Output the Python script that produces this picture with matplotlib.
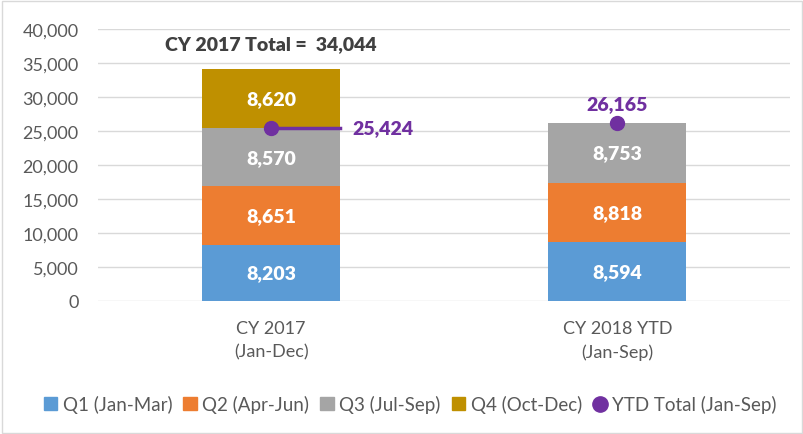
import matplotlib.pyplot as plt
from matplotlib.patches import Rectangle
from matplotlib.lines import Line2D

plt.rcParams['font.family'] = ['Lato', 'DejaVu Sans']

# quarterly counts per year
years = ['CY 2017\n(Jan-Dec)', 'CY 2018 YTD\n(Jan-Sep)']
quarters = ['Q1 (Jan-Mar)', 'Q2 (Apr-Jun)', 'Q3 (Jul-Sep)', 'Q4 (Oct-Dec)']
q_values = [
    [8203, 8594],
    [8651, 8818],
    [8570, 8753],
    [8620, 0],
]
ytd_totals = [25424, 26165]
total_2017 = 34044
colors = ['#5B9BD5', '#ED7D31', '#A5A5A5', '#BF9000']
purple = '#7030A0'

fig = plt.figure(figsize=(8.04, 4.35), dpi=100)
ax = fig.add_axes([0.122, 0.306, 0.861, 0.625])

x = [0, 1]
bottoms = [0, 0]
for qname, vals, c in zip(quarters, q_values, colors):
    ax.bar(x, vals, width=0.4, bottom=bottoms, color=c, zorder=2)
    for xi, v, b in zip(x, vals, bottoms):
        if v > 0:
            ax.text(xi, b + v / 2, f'{v:,}', ha='center', va='center',
                    color='white', fontsize=14, fontweight='heavy', zorder=4)
    bottoms = [b + v for b, v in zip(bottoms, vals)]

# YTD markers
ax.plot([0, 0.2], [ytd_totals[0]] * 2, color=purple, lw=2.5, zorder=3)
ax.plot(x, ytd_totals, 'o', color=purple, ms=10, ls='none', zorder=5)
ax.text(0.235, ytd_totals[0], f'{ytd_totals[0]:,}', ha='left', va='center',
        color=purple, fontsize=14, fontweight='heavy')
ax.text(1, ytd_totals[1] + 1600, f'{ytd_totals[1]:,}', ha='center',
        va='bottom', color=purple, fontsize=14, fontweight='heavy')

ax.text(0, 37800, f'CY 2017 Total =  {total_2017:,}', ha='center',
        va='center', color='#404040', fontsize=14, fontweight='heavy')

ax.set_xlim(-0.5, 1.5)
ax.set_ylim(0, 40000)
ax.set_yticks(range(0, 40001, 5000))
ax.yaxis.set_major_formatter(lambda v, p: f'{int(v):,}')
ax.set_xticks(x)
ax.set_xticklabels(years, linespacing=1.5)
ax.tick_params(axis='both', length=0, labelsize=13, colors='#595959', pad=14)
ax.tick_params(axis='y', pad=14)
ax.grid(axis='y', color='#D9D9D9', lw=1, zorder=0)
for s in ax.spines.values():
    s.set_visible(False)

handles = [Rectangle((0, 0), 1, 1, color=c) for c in colors]
handles.append(Line2D([], [], marker='o', color=purple, ls='none', ms=11))
fig.legend(handles, quarters + ['YTD Total (Jan-Sep)'], loc='center',
           bbox_to_anchor=(0.51, 0.068), ncol=5, frameon=False, fontsize=13.5,
           handlelength=0.7, handleheight=0.7, handletextpad=0.3,
           columnspacing=0.6, labelcolor='#595959')

fig.patches.append(Rectangle((0.002, 0.003), 0.995, 0.993, fill=False,
                             edgecolor='#D9D9D9', lw=1,
                             transform=fig.transFigure))

fig.savefig('out.png', dpi=100)
